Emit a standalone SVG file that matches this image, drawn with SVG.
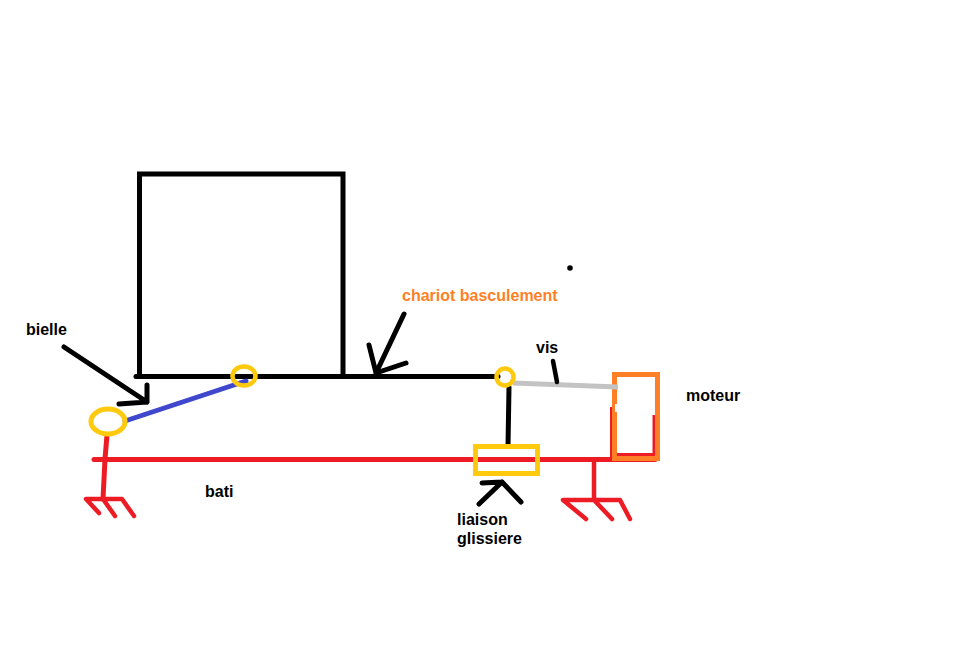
<svg xmlns="http://www.w3.org/2000/svg" width="972" height="648" viewBox="0 0 972 648">
<style>
text{font-family:"Liberation Sans",Arial,sans-serif;font-size:16px;font-weight:700;fill:#000}
.l{fill:none;stroke-linecap:round;stroke-linejoin:round;stroke-width:5}
.k{stroke:#000}.r{stroke:#ed1c24}.o{stroke:#ff7f27}.y{stroke:#ffc90e}
</style>
<rect width="972" height="648" fill="#fff"/>
<g id="chariot">
<path class="l k" style="stroke-linejoin:miter;stroke-linecap:butt" d="M139.500 376V174H343V376"/>
<path class="l k" d="M136 376.500H498"/>
</g>
<g id="bati">
<path class="l r" d="M94 459.500H655"/>
<path class="l r" d="M107 435L105 459L103 499"/>
<path class="l r" style="stroke-width:4.500" d="M99 513L86 499H122L134 516M103 499L115 516"/>
<path class="l r" style="stroke-width:4.500" d="M594 461V500M586 519L563 500H620L630 519M594 500L612 519"/>
</g>
<g id="moteur">
<path class="l r" style="stroke-width:3;stroke-linecap:butt" d="M611.500 407V458M654 415V458M615 454.500H654"/>
<path d="M614.500 374.500H657.500V458.500H614.500Z" class="l o" style="stroke-linejoin:miter"/>
<rect x="615" y="404" width="2.500" height="8" fill="#fff"/>
</g>
<g id="vis">
<path class="l" stroke="#c3c3c3" style="stroke-linecap:butt" d="M513 383L618 387"/>
</g>
<g id="bielle">
<path class="l" stroke="#3f48cc" d="M125 421L246 381"/>
</g>
<g id="liaison-glissiere">
<path class="l k" d="M509 387L508 446"/>
<rect x="475.500" y="446.500" width="62" height="27" class="l y" style="stroke-linejoin:miter"/>
</g>
<g id="pivots">
<ellipse cx="108" cy="421.500" rx="17" ry="12.500" class="l y"/>
<ellipse cx="244" cy="376" rx="11.500" ry="9.500" class="l y" style="stroke-width:4.500"/>
<circle cx="505" cy="377" r="8.500" class="l y" style="stroke-width:4.500"/>
</g>
<g id="connectors">
<path class="l k" d="M64 347L147 402M147 385V402L119 404"/>
<path class="l k" d="M404 314L376 373M369 345L376 373L406 363"/>
<path class="l k" style="stroke-width:4.500" d="M553 361L557 382"/>
<path class="l k" d="M479 504L502 482L521 502M482 483L502 482"/>
</g>
<circle cx="570" cy="268" r="2.800" fill="#000"/>
<g id="labels">
<text x="26" y="335">bielle</text>
<text x="205" y="497">bati</text>
<text x="402" y="301" style="fill:#ff7f27">chariot basculement</text>
<text x="536" y="353">vis</text>
<text x="686" y="401">moteur</text>
<text x="457" y="525">liaison</text>
<text x="457" y="544">glissiere</text>
</g>
</svg>
